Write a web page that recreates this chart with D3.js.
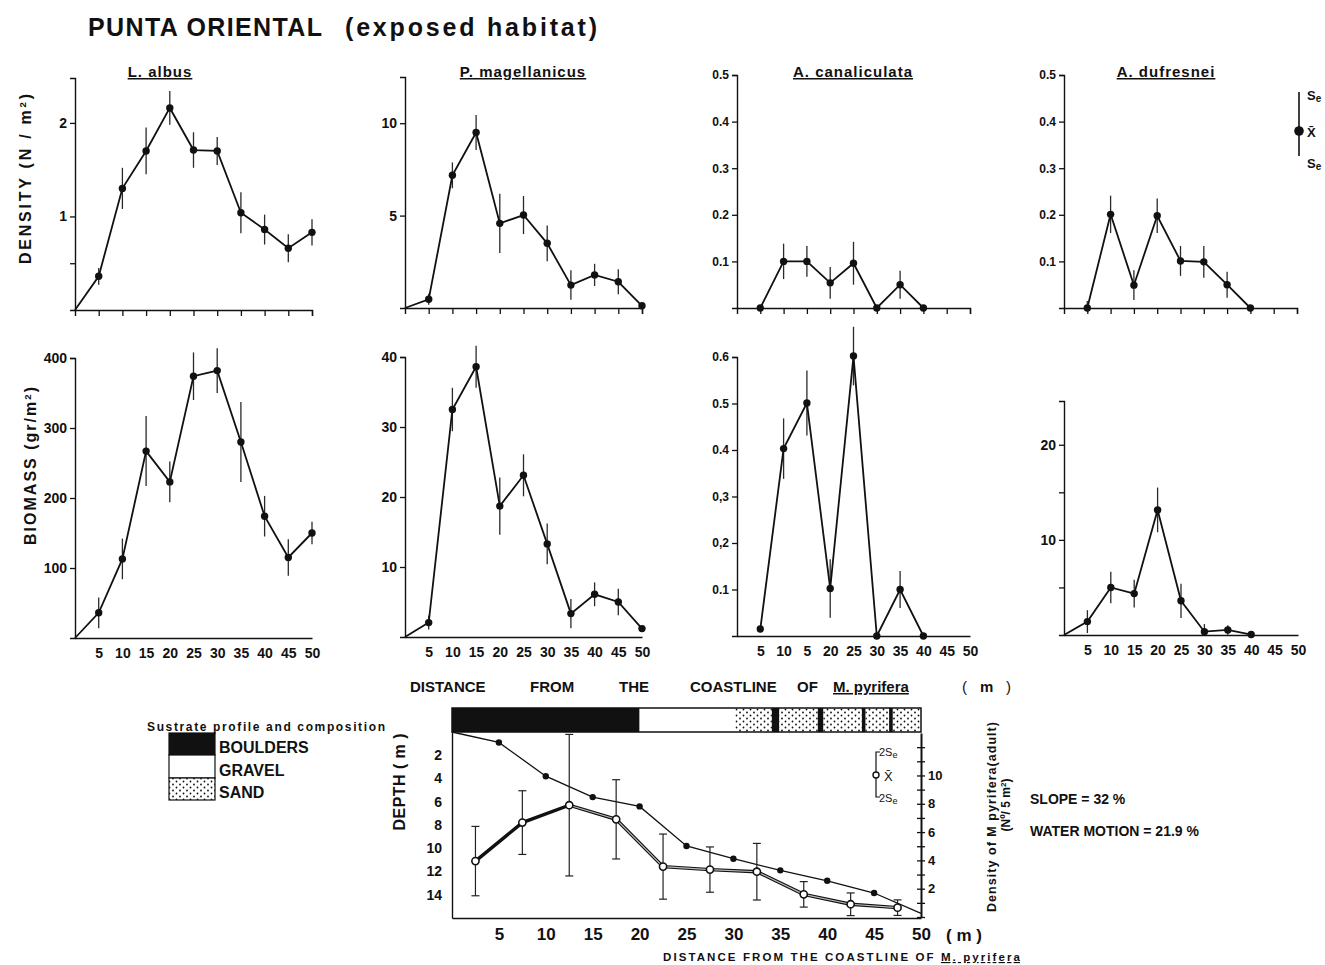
<!DOCTYPE html>
<html lang="en">
<head>
<meta charset="UTF-8">
<title>Punta Oriental (exposed habitat)</title>
<script src="https://d3js.org/d3.v7.min.js"></script>
<style>
  body { margin: 0; background: #fff; }
  svg { font-family: "Liberation Sans", Arial, sans-serif; font-weight: bold; fill: #111; }
  .tick text { font-weight: bold; fill: #111; }
</style>
</head>
<body>
<svg width="1325" height="965"></svg>

<script>
    // distance from the coastline (m)
    const distances = [0, 5, 10, 15, 20, 25, 30, 35, 40, 45, 50];
    const distTicks = [5, 10, 15, 20, 25, 30, 35, 40, 45, 50];
    const distLabels = ["5", "10", "15", "20", "25", "30", "35", "40", "45", "50"];
    const distLabelsCan = ["5", "10", "5", "20", "25", "30", "35", "40", "45", "50"];

    // density (N/m2): mean and standard error, null = no sample
    const albusDensity   = [0, 0.36, 1.30, 1.70, 2.16, 1.71, 1.70, 1.04, 0.86, 0.66, 0.83];
    const albusDensitySe = [0, 0.09, 0.22, 0.25, 0.18, 0.19, 0.15, 0.22, 0.16, 0.15, 0.14];
    const magDensity     = [0, 0.47, 7.18, 9.5, 4.58, 5.03, 3.5, 1.24, 1.79, 1.42, 0.12];
    const magDensitySe   = [0, 0.3, 0.7, 0.95, 1.6, 1.03, 0.97, 0.8, 0.6, 0.68, 0];
    const canDensity     = [null, 0, 0.10, 0.10, 0.054, 0.096, 0, 0.05, 0, null, null];
    const canDensitySe   = [null, 0, 0.038, 0.033, 0.034, 0.046, 0, 0.03, 0, null, null];
    const dufDensity     = [null, 0, 0.201, 0.049, 0.198, 0.101, 0.099, 0.05, 0, null, null];
    const dufDensitySe   = [null, 0.015, 0.04, 0.032, 0.037, 0.032, 0.034, 0.028, 0, null, null];

    // biomass (gr/m2)
    const albusBiomass   = [0, 36, 113, 267, 223, 374, 382, 280, 174, 115, 150];
    const albusBiomassSe = [0, 22, 29, 50, 29, 34, 32, 57, 29, 26, 16];
    const magBiomass     = [0, 2.06, 32.5, 38.6, 18.7, 23.1, 13.3, 3.34, 6.1, 5.0, 1.2];
    const magBiomassSe   = [0, 1, 3.1, 3, 4.1, 3, 2.9, 2.1, 1.7, 1.9, 0];
    const canBiomass     = [null, 0.015, 0.403, 0.501, 0.102, 0.602, 0, 0.1, 0, null, null];
    const canBiomassSe   = [null, 0, 0.065, 0.07, 0.063, 0.063, 0, 0.04, 0, null, null];
    const dufBiomass     = [0, 1.41, 5.0, 4.35, 13.15, 3.6, 0.35, 0.53, 0.05, null, null];
    const dufBiomassSe   = [0, 1.2, 1.65, 1.45, 2.35, 1.8, 0.8, 0.5, 0, null, null];

    // y tick values and labels
    const albusDenTicks = [1, 2],        albusDenLabels = ["1", "2"];
    const magDenTicks = [5, 10],         magDenLabels = ["5", "10"];
    const smallDenTicks = [0.1, 0.2, 0.3, 0.4, 0.5];
    const smallDenLabels = ["0.1", "0.2", "0.3", "0.4", "0.5"];
    const albusBioTicks = [100, 200, 300, 400], albusBioLabels = ["100", "200", "300", "400"];
    const magBioTicks = [10, 20, 30, 40],       magBioLabels = ["10", "20", "30", "40"];
    const canBioTicks = [0.1, 0.2, 0.3, 0.4, 0.5, 0.6];
    const canBioLabels = ["0.1", "0,2", "0,3", "0.4", "0.5", "0.6"];
    const dufBioTicks = [10, 20],        dufBioLabels = ["10", "20"];

    // substrate profile: type, from (m), to (m)
    const substrate = [
        ["boulders", 0, 20], ["gravel", 20, 30.2], ["sand", 30.2, 34.1], ["boulders", 34.1, 34.9],
        ["sand", 34.9, 39.0], ["boulders", 39.0, 39.6], ["sand", 39.6, 43.7], ["boulders", 43.7, 44.1],
        ["sand", 44.1, 46.6], ["boulders", 46.6, 47.0], ["sand", 47.0, 50]
    ];

    // depth profile (m)
    const depthDist = [0, 5, 10, 15, 20, 25, 30, 35, 40, 45, 50];
    const depth     = [0, 0.9, 3.8, 5.6, 6.4, 9.8, 10.9, 11.9, 12.8, 13.85, 15.6];
    const depthTicks = [2, 4, 6, 8, 10, 12, 14];

    // M. pyrifera adults (N/5 m2): mean and 2 Se
    const pyrDist = [2.5, 7.5, 12.5, 17.5, 22.5, 27.5, 32.5, 37.5, 42.5, 47.5];
    const pyrMean = [3.95, 6.67, 7.9, 6.9, 3.56, 3.35, 3.2, 1.6, 0.9, 0.66];
    const pyrErr  = [2.45, 2.25, 5.0, 2.8, 2.3, 1.6, 2.0, 0.9, 0.8, 0.55];
    const pyrTicks = [0, 1, 2, 3, 4, 5, 6, 7, 8, 9, 10, 11, 12];
    const pyrLabels = ["", "", "2", "", "4", "", "6", "", "8", "", "10", "", ""];

    const svg = d3.select("svg");
    const ink = "#111";

    const defs = svg.append("defs");
    const pat = defs.append("pattern").attr("id", "sand")
        .attr("width", 7).attr("height", 6).attr("patternUnits", "userSpaceOnUse");
    pat.append("rect").attr("width", 7).attr("height", 6).attr("fill", "#fff");
    pat.append("circle").attr("cx", 1.5).attr("cy", 1.5).attr("r", 0.9).attr("fill", ink);
    pat.append("circle").attr("cx", 5).attr("cy", 4.5).attr("r", 0.9).attr("fill", ink);

    function styleAxis(g, size) {
        g.select(".domain").attr("stroke", ink).attr("stroke-width", 1.4);
        g.selectAll(".tick line").attr("stroke", ink).attr("stroke-width", 1.3);
        g.selectAll(".tick text").attr("font-size", size).attr("fill", ink)
            .attr("font-family", "'Liberation Sans', Arial, sans-serif");
    }

    function panel(p) {
        const x = d3.scaleLinear([0, 50], [p.left, p.right]);
        const y = d3.scaleLinear([0, p.max], [p.bottom, p.top]);
        const g = svg.append("g");

        const xAxis = d3.axisBottom(x).tickValues(distTicks).tickSizeOuter(0)
            .tickSize(p.xLabels ? 0 : 6).tickPadding(p.xLabels ? 10 : 3)
            .tickFormat((d, i) => p.xLabels ? p.xLabels[i] : "");
        g.append("g").attr("transform", `translate(0,${p.bottom})`).call(xAxis).call(styleAxis, 14);

        const minor = p.minor || [];
        const yAxis = d3.axisLeft(y).tickValues(p.ticks.concat(minor)).tickSizeOuter(0)
            .tickSize(5).tickPadding(3)
            .tickFormat(d => {
                const i = p.ticks.indexOf(d);
                return i < 0 ? "" : p.labels[i];
            });
        g.append("g").attr("transform", `translate(${p.left},0)`).call(yAxis).call(styleAxis, p.labelSize || 14);

        const pts = distances.map((d, i) => ({ d: d, v: p.vals[i], e: p.se[i] }))
            .filter(o => o.v !== null);

        g.selectAll(".err").data(pts.filter(o => o.e > 0)).join("line")
            .attr("x1", o => x(o.d)).attr("x2", o => x(o.d))
            .attr("y1", o => y(Math.max(0, o.v - o.e)))
            .attr("y2", o => y(o.v + o.e))
            .attr("stroke", "#2a2a2a").attr("stroke-width", 1.3);

        g.append("path").datum(pts)
            .attr("d", d3.line().x(o => x(o.d)).y(o => y(o.v)))
            .attr("fill", "none").attr("stroke", ink).attr("stroke-width", 1.8);

        g.selectAll(".dot").data(pts.filter(o => o.d > 0)).join("circle")
            .attr("cx", o => x(o.d)).attr("cy", o => y(o.v)).attr("r", 3.7).attr("fill", ink);

        if (p.title) {
            svg.append("text").attr("x", p.titleX).attr("y", 77)
                .attr("text-anchor", "middle").attr("font-size", 15)
                .attr("letter-spacing", 1).style("text-decoration", "underline")
                .text(p.title);
        }
    }

    // density row
    panel({ vals: albusDensity, se: albusDensitySe, left: 75, right: 312, bottom: 310, top: 78, max: 2.48,
            ticks: albusDenTicks, labels: albusDenLabels, minor: [0.5], title: "L. albus", titleX: 160 });
    panel({ vals: magDensity, se: magDensitySe, left: 405, right: 642, bottom: 308, top: 77, max: 12.5,
            ticks: magDenTicks, labels: magDenLabels, title: "P. magellanicus", titleX: 523 });
    panel({ vals: canDensity, se: canDensitySe, left: 737, right: 970, bottom: 308, top: 75, max: 0.5,
            ticks: smallDenTicks, labels: smallDenLabels, labelSize: 12, title: "A. canaliculata", titleX: 853 });
    panel({ vals: dufDensity, se: dufDensitySe, left: 1064, right: 1297, bottom: 308, top: 75, max: 0.5,
            ticks: smallDenTicks, labels: smallDenLabels, labelSize: 12, title: "A. dufresnei", titleX: 1166 });

    // biomass row
    panel({ vals: albusBiomass, se: albusBiomassSe, left: 75, right: 312, bottom: 638, top: 358, max: 400,
            ticks: albusBioTicks, labels: albusBioLabels, xLabels: distLabels });
    panel({ vals: magBiomass, se: magBiomassSe, left: 405, right: 642, bottom: 637, top: 357, max: 40,
            ticks: magBioTicks, labels: magBioLabels, xLabels: distLabels });
    panel({ vals: canBiomass, se: canBiomassSe, left: 737, right: 970, bottom: 636, top: 357, max: 0.6,
            ticks: canBioTicks, labels: canBioLabels, labelSize: 12, xLabels: distLabelsCan });
    panel({ vals: dufBiomass, se: dufBiomassSe, left: 1064, right: 1298, bottom: 635, top: 401, max: 24.6,
            ticks: dufBioTicks, labels: dufBioLabels, minor: [5, 15], xLabels: distLabels });

    // main title
    svg.append("text").attr("x", 88).attr("y", 36).attr("font-size", 25)
        .attr("textLength", 234).attr("lengthAdjust", "spacing").text("PUNTA ORIENTAL");
    svg.append("text").attr("x", 345).attr("y", 36).attr("font-size", 25)
        .attr("textLength", 252).attr("lengthAdjust", "spacing").text("(exposed   habitat)");

    // y titles of the two rows
    function vtitle(x, yc, len, size, parts) {
        const t = svg.append("text").attr("transform", `translate(${x},${yc}) rotate(-90)`)
            .attr("text-anchor", "middle").attr("font-size", size)
            .attr("textLength", len).attr("lengthAdjust", "spacing");
        parts.forEach(s => {
            const ts = t.append("tspan").text(s[0]);
            if (s[1]) ts.attr("baseline-shift", "super").attr("font-size", size * 0.6);
        });
        return t;
    }
    vtitle(31, 179, 170, 16, [["DENSITY    (N / m"], ["2", true], [")"]]);
    vtitle(36, 466, 158, 16, [["BIOMASS  (gr/m"], ["2", true], [")"]]);

    // Se legend (top right)
    const lg = svg.append("g");
    lg.append("line").attr("x1", 1299).attr("x2", 1299).attr("y1", 92).attr("y2", 156)
        .attr("stroke", ink).attr("stroke-width", 1.6);
    lg.append("circle").attr("cx", 1299).attr("cy", 131).attr("r", 4.8).attr("fill", ink);
    [[100, "S", "e"], [137, "X\u0304", ""], [168, "S", "e"]].forEach(r => {
        const t = lg.append("text").attr("x", 1307).attr("y", r[0]).attr("font-size", 13).text(r[1]);
        if (r[2]) t.append("tspan").attr("font-size", 10).attr("dy", 2).text(r[2]);
    });

    // middle x title
    const mid = svg.append("text").attr("y", 692).attr("font-size", 15);
    [["DISTANCE", 410], ["FROM", 530], ["THE", 619], ["COASTLINE", 690], ["OF", 797]].forEach(w =>
        mid.append("tspan").attr("x", w[1]).text(w[0]));
    mid.append("tspan").attr("x", 833).style("text-decoration", "underline").text("M. pyrifera");
    mid.append("tspan").attr("x", 962).attr("font-weight", "normal").text("(");
    mid.append("tspan").attr("x", 980).text("m");
    mid.append("tspan").attr("x", 1006).attr("font-weight", "normal").text(")");

    // ---- substrate / depth panel ----
    const xB = d3.scaleLinear([0, 50], [452, 921]);
    const yDepth = d3.scaleLinear([0, 16], [732, 918]);
    const yPyr = d3.scaleLinear([0, 13], [917, 733]);
    const bp = svg.append("g");

    bp.selectAll(".sub").data(substrate).join("rect")
        .attr("x", s => xB(s[1])).attr("width", s => xB(s[2]) - xB(s[1]))
        .attr("y", 708).attr("height", 24)
        .attr("fill", s => s[0] === "boulders" ? ink : s[0] === "sand" ? "url(#sand)" : "#fff");
    bp.append("rect").attr("x", xB(0)).attr("y", 708).attr("width", xB(50) - xB(0)).attr("height", 24)
        .attr("fill", "none").attr("stroke", ink).attr("stroke-width", 1.5);

    bp.append("g").attr("transform", "translate(0,918)")
        .call(d3.axisBottom(xB).tickValues(distTicks).tickSize(0).tickPadding(10).tickSizeOuter(0))
        .call(styleAxis, 17);
    bp.append("g").attr("transform", "translate(452,0)")
        .call(d3.axisLeft(yDepth).tickValues(depthTicks).tickSize(0).tickPadding(10).tickSizeOuter(0))
        .call(styleAxis, 14);
    const ra = bp.append("g").attr("transform", "translate(921,0)")
        .call(d3.axisRight(yPyr).tickValues(pyrTicks).tickSize(4).tickPadding(3).tickSizeOuter(0)
            .tickFormat((d, i) => pyrLabels[i]))
        .call(styleAxis, 13);
    ra.selectAll(".tick line").attr("x1", -4);
    ra.select(".domain").attr("stroke-width", 2);

    // depth profile
    bp.append("path").datum(depth)
        .attr("d", d3.line().x((d, i) => xB(depthDist[i])).y(d => yDepth(d)))
        .attr("fill", "none").attr("stroke", ink).attr("stroke-width", 1.3);
    bp.selectAll(".ddot").data(depth.slice(1, -1)).join("circle")
        .attr("cx", (d, i) => xB(depthDist[i + 1])).attr("cy", d => yDepth(d))
        .attr("r", 3.2).attr("fill", ink);

    // M. pyrifera density
    const pyr = pyrDist.map((d, i) => ({ d: d, v: pyrMean[i], e: pyrErr[i] }));
    const eb = bp.selectAll(".pe").data(pyr).join("g").attr("stroke", "#222").attr("stroke-width", 1.2);
    eb.append("line").attr("x1", o => xB(o.d)).attr("x2", o => xB(o.d))
        .attr("y1", o => yPyr(Math.max(0, o.v - o.e))).attr("y2", o => yPyr(o.v + o.e));
    eb.append("line").attr("x1", o => xB(o.d) - 4).attr("x2", o => xB(o.d) + 4)
        .attr("y1", o => yPyr(o.v + o.e)).attr("y2", o => yPyr(o.v + o.e));
    eb.append("line").attr("x1", o => xB(o.d) - 4).attr("x2", o => xB(o.d) + 4)
        .attr("y1", o => yPyr(Math.max(0, o.v - o.e))).attr("y2", o => yPyr(Math.max(0, o.v - o.e)));

    const pyrLine = d3.line().x(o => xB(o.d)).y(o => yPyr(o.v));
    bp.append("path").datum(pyr).attr("d", pyrLine)
        .attr("fill", "none").attr("stroke", ink).attr("stroke-width", 3.4);
    bp.append("path").datum(pyr.slice(2)).attr("d", pyrLine)
        .attr("fill", "none").attr("stroke", "#bbb").attr("stroke-width", 1.1);
    bp.selectAll(".pdot").data(pyr).join("circle")
        .attr("cx", o => xB(o.d)).attr("cy", o => yPyr(o.v)).attr("r", 3.6)
        .attr("fill", "#fff").attr("stroke", ink).attr("stroke-width", 1.6);

    // 2Se legend in depth panel
    bp.append("path").attr("d", "M880,752 H876 V797 H880").attr("fill", "none")
        .attr("stroke", ink).attr("stroke-width", 1.2);
    bp.append("circle").attr("cx", 876).attr("cy", 775).attr("r", 3).attr("fill", "#fff")
        .attr("stroke", ink).attr("stroke-width", 1.4);
    [[756, "2S"], [802, "2S"]].forEach(r => {
        const t = bp.append("text").attr("x", 879).attr("y", r[0]).attr("font-size", 11)
            .attr("font-weight", "normal").text(r[1]);
        t.append("tspan").attr("font-size", 9).attr("dy", 2).text("e");
    });
    bp.append("text").attr("x", 884).attr("y", 781).attr("font-size", 13).attr("font-weight", "normal").text("X\u0304");

    // axis titles of depth panel
    svg.append("text").attr("transform", "translate(405,782) rotate(-90)").attr("text-anchor", "middle")
        .attr("font-size", 16).attr("textLength", 97).attr("lengthAdjust", "spacing").text("DEPTH ( m )");
    svg.append("text").attr("transform", "translate(996,817) rotate(-90)").attr("text-anchor", "middle")
        .attr("font-size", 12.5).attr("textLength", 190).attr("lengthAdjust", "spacing")
        .text("Density of M pyrifera(adult)");
    const nt = svg.append("text").attr("transform", "translate(1010,805) rotate(-90)").attr("text-anchor", "middle")
        .attr("font-size", 12);
    nt.append("tspan").text("(N\u00BA/ 5 m");
    nt.append("tspan").attr("baseline-shift", "super").attr("font-size", 8).text("2");
    nt.append("tspan").text(")");

    svg.append("text").attr("x", 946).attr("y", 941).attr("font-size", 17).text("( m )");
    const bt = svg.append("text").attr("x", 663).attr("y", 961).attr("font-size", 11.5)
        .attr("textLength", 357).attr("lengthAdjust", "spacing");
    bt.append("tspan").text("DISTANCE   FROM THE COASTLINE  OF  ");
    bt.append("tspan").style("text-decoration", "underline").text("M. pyrifera");

    // substrate legend
    svg.append("text").attr("x", 147).attr("y", 731).attr("font-size", 12)
        .attr("textLength", 238).attr("lengthAdjust", "spacing").text("Sustrate profile and composition");
    const legendRows = [["boulders", "BOULDERS", 733, 755], ["gravel", "GRAVEL", 755, 778], ["sand", "SAND", 778, 800]];
    legendRows.forEach(r => {
        svg.append("rect").attr("x", 169).attr("y", r[2]).attr("width", 46).attr("height", r[3] - r[2])
            .attr("fill", r[0] === "boulders" ? ink : r[0] === "sand" ? "url(#sand)" : "#fff")
            .attr("stroke", ink).attr("stroke-width", 1.2);
        svg.append("text").attr("x", 219).attr("y", r[3] - 2).attr("font-size", 16).text(r[1]);
    });

    // slope and water motion
    svg.append("text").attr("x", 1030).attr("y", 804).attr("font-size", 14).text("SLOPE = 32 %");
    svg.append("text").attr("x", 1030).attr("y", 836).attr("font-size", 14).text("WATER MOTION = 21.9 %");
</script>

</body>
</html>
